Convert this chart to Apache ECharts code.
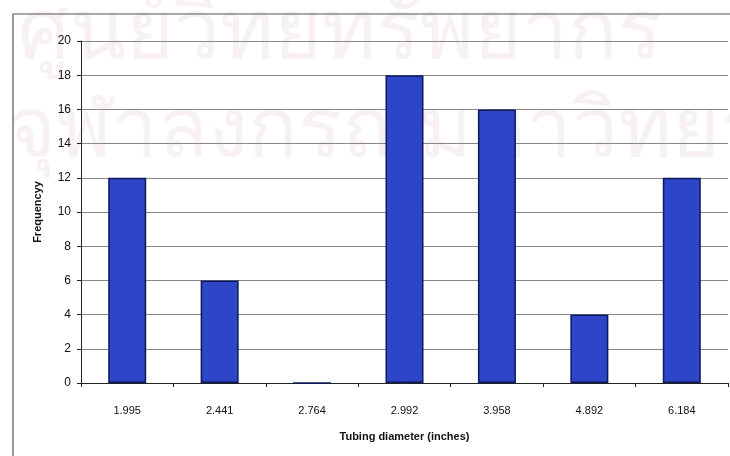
<!DOCTYPE html>
<html><head><meta charset="utf-8">
<script src="https://cdn.jsdelivr.net/npm/echarts@6/dist/echarts.min.js"></script>
<style>html,body{margin:0;padding:0;background:#fff}#c{width:730px;height:456px}</style>
</head><body><div id="c"></div>
<script>
const categories = ['1.995','2.441','2.764','2.992','3.958','4.892','6.184'];
const frequency = [12, 6, 0, 18, 16, 4, 12];
const xTitle = 'Tubing diameter (inches)';
const yTitle = 'Frequencyy';
const watermark1 = 'ศูนย์วิทยทรัพยากร';
const watermark2 = 'จุฬาลงกรณ์มหาวิทยาลัย';

const chart = echarts.init(document.getElementById('c'));
chart.setOption({
  animation: false,
  backgroundColor: '#fff',
  graphic: [
    {type:'text', left: 18, top: -6, z: -10, silent: true,
     style:{text: watermark1, font:'82px "Noto Sans", sans-serif', fill:'#f8f1f3'}},
    {type:'text', left: 8, top: 92, z: -10, silent: true,
     style:{text: watermark2, font:'82px "Noto Sans", sans-serif', fill:'#f8f1f3'}},
    {type:'rect', shape:{x:13, y:14, width:760, height:500}, z: -5, silent: true,
     style:{fill:'none', stroke:'#555', lineWidth:1.2}}
  ],
  grid: {left: 81, right: 2, top: 41, bottom: 73},
  xAxis: {
    type: 'category', data: categories,
    name: xTitle, nameLocation: 'middle', nameGap: 48,
    nameTextStyle: {fontFamily:'Liberation Sans', fontWeight:'bold', fontSize: 11, color:'#111'},
    axisLine: {lineStyle: {color:'#222', width: 1}},
    axisTick: {show: true, alignWithLabel: false, length: 4, lineStyle:{color:'#222'}},
    axisLabel: {fontFamily:'Liberation Sans', fontSize: 11, color:'#111', margin: 22}
  },
  yAxis: {
    type: 'value', min: 0, max: 20, interval: 2,
    name: yTitle, nameLocation: 'middle', nameGap: 38,
    nameTextStyle: {fontFamily:'Liberation Sans', fontWeight:'bold', fontSize: 11, color:'#111'},
    axisLine: {show: true, lineStyle: {color:'#222', width: 1}},
    axisTick: {show: true, length: 4, lineStyle:{color:'#222'}},
    axisLabel: {fontFamily:'Liberation Sans', fontSize: 12, color:'#111', margin: 10},
    splitLine: {lineStyle: {color:'#888', width: 1}}
  },
  series: [{
    type: 'bar', data: frequency, barWidth: 38,
    itemStyle: {color:'#2e45c8', borderColor:'#0c1a5c', borderWidth: 1.5}
  }]
});
</script></body></html>
